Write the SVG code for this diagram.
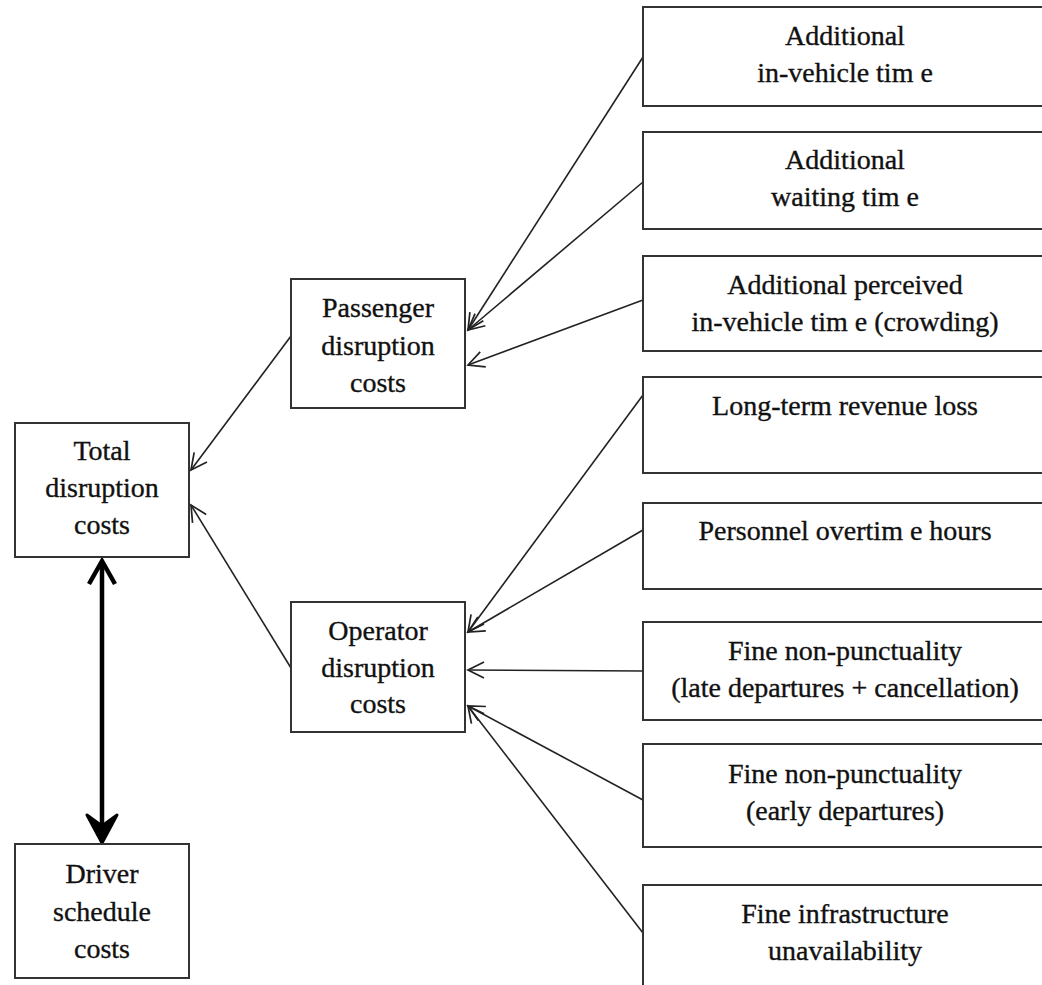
<svg xmlns="http://www.w3.org/2000/svg" width="1042" height="985" viewBox="0 0 1042 985">
<style>
.box{fill:#fff;stroke:#333;stroke-width:2}
.t{font-family:"Liberation Serif","Times New Roman",serif;font-size:28px;fill:#111;stroke:#111;stroke-width:0.35;text-anchor:middle}
.c{stroke:#222;stroke-width:1.6;fill:none}
.thick{stroke:#000;stroke-width:4.5;fill:none}
</style>
<defs>
<marker id="oa" markerUnits="userSpaceOnUse" markerWidth="22" markerHeight="22" refX="17" refY="9" orient="auto">
<path d="M1,1 L17,9 L1,17" fill="none" stroke="#222" stroke-width="1.7"/>
</marker>
</defs>
<rect width="1042" height="985" fill="#fff"/>
<g id="connectors">
<line class="c" x1="643" y1="57" x2="468" y2="330" marker-end="url(#oa)"/>
<line class="c" x1="643" y1="182" x2="468" y2="330" marker-end="url(#oa)"/>
<line class="c" x1="643" y1="300" x2="468" y2="365" marker-end="url(#oa)"/>
<line class="c" x1="643" y1="395" x2="468" y2="632" marker-end="url(#oa)"/>
<line class="c" x1="643" y1="530" x2="468" y2="632" marker-end="url(#oa)"/>
<line class="c" x1="643" y1="671" x2="468" y2="670" marker-end="url(#oa)"/>
<line class="c" x1="643" y1="800" x2="468" y2="706" marker-end="url(#oa)"/>
<line class="c" x1="643" y1="933" x2="468" y2="706" marker-end="url(#oa)"/>
<line class="c" x1="291" y1="336" x2="191" y2="470" marker-end="url(#oa)"/>
<line class="c" x1="291" y1="668" x2="191" y2="505" marker-end="url(#oa)"/>
<line class="thick" x1="102" y1="562" x2="102" y2="838"/>
<path class="thick" d="M89,584 L102,561 L115,584"/>
<path d="M87,815 L102,843 L117,815 L102,826 Z" fill="#000" stroke="#000" stroke-width="3" stroke-linejoin="round"/>
</g>
<g id="total">
<rect class="box" x="15" y="423" width="174" height="134"/>
<text class="t" x="102" y="460">Total</text>
<text class="t" x="102" y="497">disruption</text>
<text class="t" x="102" y="534">costs</text>
</g>
<g id="driver">
<rect class="box" x="15" y="844" width="174" height="134"/>
<text class="t" x="102" y="883">Driver</text>
<text class="t" x="102" y="921">schedule</text>
<text class="t" x="102" y="958">costs</text>
</g>
<g id="passenger">
<rect class="box" x="291" y="279" width="174" height="129"/>
<text class="t" x="378" y="317">Passenger</text>
<text class="t" x="378" y="355">disruption</text>
<text class="t" x="378" y="392">costs</text>
</g>
<g id="operator">
<rect class="box" x="291" y="602" width="174" height="130"/>
<text class="t" x="378" y="640">Operator</text>
<text class="t" x="378" y="677">disruption</text>
<text class="t" x="378" y="713">costs</text>
</g>
<g id="r1">
<rect class="box" x="643" y="7" width="410" height="99"/>
<text class="t" x="845" y="45">Additional</text>
<text class="t" x="845" y="82">in-vehicle tim e</text>
</g>
<g id="r2">
<rect class="box" x="643" y="132" width="410" height="97"/>
<text class="t" x="845" y="169">Additional</text>
<text class="t" x="845" y="206">waiting tim e</text>
</g>
<g id="r3">
<rect class="box" x="643" y="256" width="410" height="95"/>
<text class="t" x="845" y="294">Additional perceived</text>
<text class="t" x="845" y="331">in-vehicle tim e (crowding)</text>
</g>
<g id="r4">
<rect class="box" x="643" y="377" width="410" height="96"/>
<text class="t" x="845" y="415">Long-term revenue loss</text>
</g>
<g id="r5">
<rect class="box" x="643" y="503" width="410" height="86"/>
<text class="t" x="845" y="540">Personnel overtim e hours</text>
</g>
<g id="r6">
<rect class="box" x="643" y="622" width="410" height="98"/>
<text class="t" x="845" y="660">Fine non-punctuality</text>
<text class="t" x="845" y="697">(late departures + cancellation)</text>
</g>
<g id="r7">
<rect class="box" x="643" y="744" width="410" height="103"/>
<text class="t" x="845" y="783">Fine non-punctuality</text>
<text class="t" x="845" y="820">(early departures)</text>
</g>
<g id="r8">
<rect class="box" x="643" y="885" width="410" height="120"/>
<text class="t" x="845" y="923">Fine infrastructure</text>
<text class="t" x="845" y="960">unavailability</text>
</g>
</svg>
